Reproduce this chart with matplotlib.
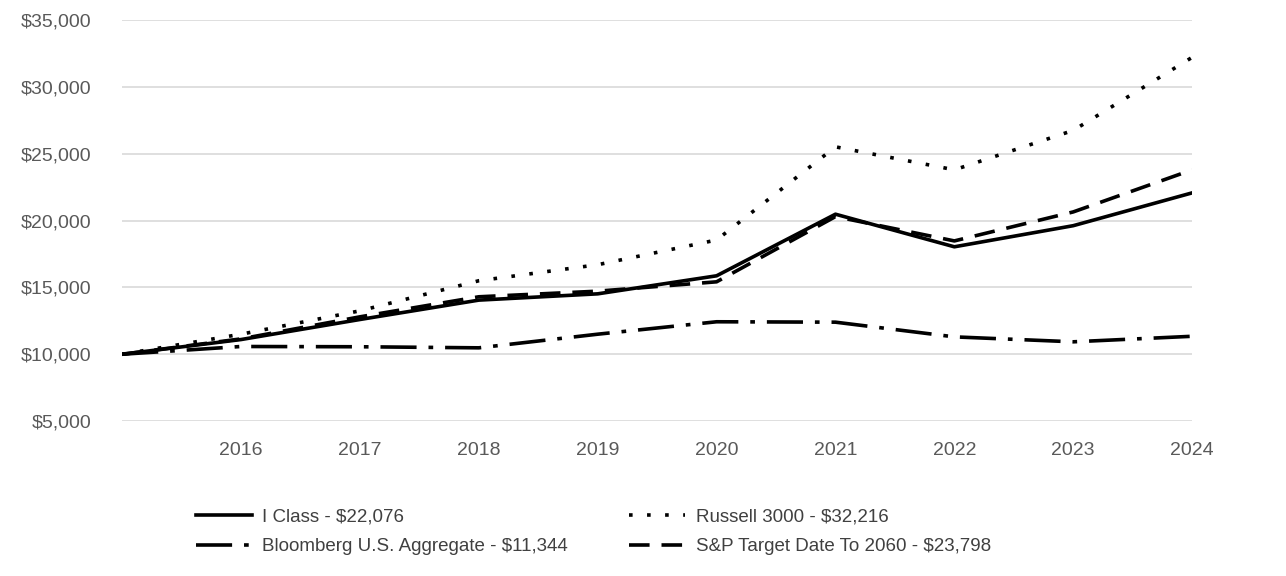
import matplotlib
matplotlib.use("Agg")
import matplotlib.pyplot as plt
from matplotlib.ticker import FuncFormatter

plt.rcParams["font.family"] = ["Liberation Sans", "DejaVu Sans"]

years = [2015, 2016, 2017, 2018, 2019, 2020, 2021, 2022, 2023, 2024]
tick_years = [2016, 2017, 2018, 2019, 2020, 2021, 2022, 2023, 2024]

i_class = [10000, 11100, 12600, 14050, 14520, 15870, 20480, 18040, 19620, 22076]
russell_3000 = [10000, 11500, 13250, 15500, 16700, 18550, 25520, 23800, 26750, 32216]
bloomberg_agg = [10000, 10580, 10560, 10480, 11500, 12430, 12400, 11300, 10930, 11344]
sp_target_2060 = [10000, 11150, 12800, 14300, 14720, 15420, 20300, 18480, 20650, 23798]

labels = [
    "I Class - $22,076",
    "Russell 3000 - $32,216",
    "Bloomberg U.S. Aggregate - $11,344",
    "S&P Target Date To 2060 - $23,798",
]

fig = plt.figure(figsize=(12.86, 5.76), dpi=100)
ax = fig.add_axes([0.095, 0.269, 0.832, 0.696])

lw = 2.6
l1, = ax.plot(years, i_class, color="black", lw=lw)
l2, = ax.plot(years, russell_3000, color="black", lw=lw, linestyle=(0, (1, 4)))
l3, = ax.plot(years, bloomberg_agg, color="black", lw=lw, linestyle=(0, (10, 3.3, 1.3, 3.3)))
l4, = ax.plot(years, sp_target_2060, color="black", lw=lw, linestyle=(0, (5.7, 3.3)))

ax.set_xlim(2015, 2024)
ax.set_ylim(5000, 35000)
ax.set_yticks(range(5000, 35001, 5000))
ax.set_xticks(tick_years)
ax.yaxis.set_major_formatter(FuncFormatter(lambda v, p: f"${v:,.0f}"))
ax.grid(axis="y", color="#d9d9d9", lw=1.2)
ax.set_axisbelow(True)
for s in ax.spines.values():
    s.set_visible(False)
ax.tick_params(length=0, labelsize=14, labelcolor="#595959")
ax.tick_params(axis="x", pad=15)
ax.tick_params(axis="y", pad=22)

# matplotlib fills legend columns first, so reorder to get the row layout
ax.legend(
    [l1, l3, l2, l4], [labels[0], labels[2], labels[1], labels[3]],
    ncol=2, loc="upper left", bbox_to_anchor=(0.053, -0.175),
    frameon=False, fontsize=13.5, labelcolor="#404040",
    handlelength=3.0, handletextpad=0.55, columnspacing=3.25,
    labelspacing=0.68,
)

fig.savefig("out.png", dpi=100)
